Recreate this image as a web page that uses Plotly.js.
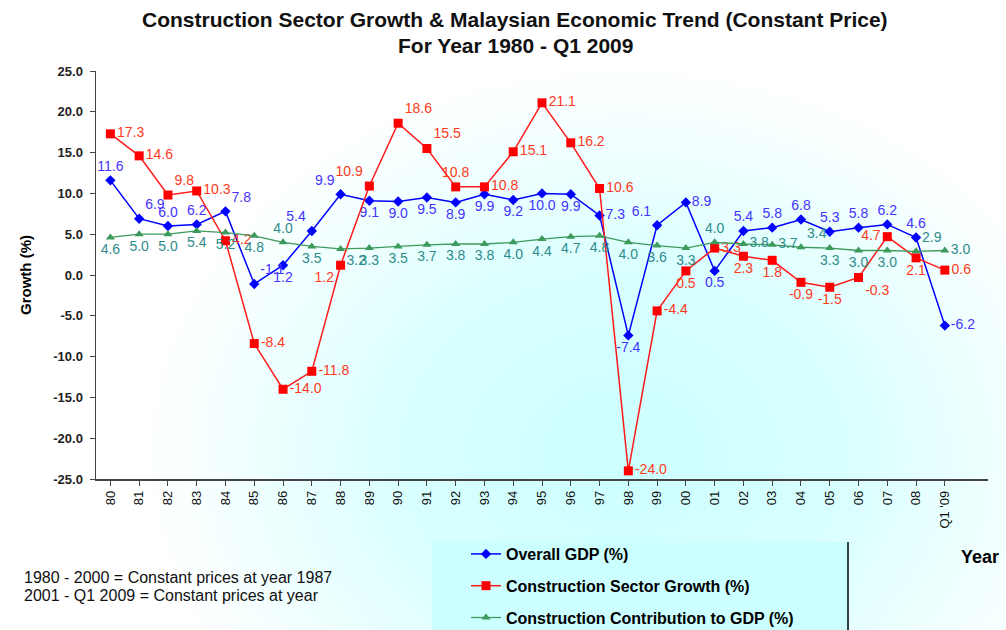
<!DOCTYPE html>
<html>
<head>
<meta charset="utf-8">
<script src="https://cdn.plot.ly/plotly-3.0.1.min.js"></script>
<style>
html,body{margin:0;padding:0;}
body{width:1006px;height:630px;overflow:hidden;
background:radial-gradient(ellipse 48% 62% at 62% 72%, #ccffff 0%, #d8ffff 45%, #f2ffff 80%, #ffffff 100%);}
#chart{width:1006px;height:630px;}
</style>
</head>
<body>
<div id="chart"></div>
<script>
const years = ["80","81","82","83","84","85","86","87","88","89","90","91","92","93","94","95","96","97","98","99","00","01","02","03","04","05","06","07","08","Q1 '09"];
const gdp = [11.6,6.9,6.0,6.2,7.8,-1.1,1.2,5.4,9.9,9.1,9.0,9.5,8.9,9.9,9.2,10.0,9.9,7.3,-7.4,6.1,8.9,0.5,5.4,5.8,6.8,5.3,5.8,6.2,4.6,-6.2];
const construction = [17.3,14.6,9.8,10.3,4.2,-8.4,-14.0,-11.8,1.2,10.9,18.6,15.5,10.8,10.8,15.1,21.1,16.2,10.6,-24.0,-4.4,0.5,3.3,2.3,1.8,-0.9,-1.5,-0.3,4.7,2.1,0.6];
const contribution = [4.6,5.0,5.0,5.4,5.2,4.8,4.0,3.5,3.2,3.3,3.5,3.7,3.8,3.8,4.0,4.4,4.7,4.8,4.0,3.6,3.3,4.0,3.8,3.7,3.4,3.3,3.0,3.0,2.9,3.0];
const seriesNames = ["Overall GDP (%)","Construction Sector Growth (%)","Construction Contribution to GDP (%)"];
const yTicks = [-25,-20,-15,-10,-5,0,5,10,15,20,25];

const gdpPos = ["top center","top right","top center","top center","top right","top right","bottom center","top left","top left",
 "bottom center","bottom center","bottom center","bottom center","bottom center","bottom center","bottom center","bottom center","middle right",
 "bottom center","top left","middle right","bottom center","top center","top center","top center","top center","top center","top center","top center","middle right"];
const conPos = ["middle right","middle right","top right","middle right","middle right","middle right","middle right","middle right","bottom left",
 "top left","top right","top right","top center","middle right","middle right","middle right","middle right","middle right","middle right","middle right",
 "bottom center","middle right","bottom center","bottom center","bottom center","bottom center","bottom right","middle left","bottom center","middle right"];
const ctbPos = ["bottom center","bottom center","bottom center","bottom center","bottom center","bottom center","top center","bottom center","bottom right",
 "bottom center","bottom center","bottom center","bottom center","bottom center","bottom center","bottom center","bottom center","bottom center","bottom center","bottom center",
 "bottom center","top center","middle right","middle right","top right","bottom center","bottom center","bottom center","top right","middle right"];

const x = years.map((_, i) => i);
const fmt = v => v.toFixed(1);
const labFont = {family:"Arial, Liberation Sans, sans-serif", size:14};

const traces = [
 {x:x, y:gdp, name:seriesNames[0], mode:"lines+markers+text", legendgroup:"a",
  line:{color:"#0000ff", width:1.5}, marker:{symbol:"diamond", size:8, color:"#0000ff"},
  text:gdp.map(fmt), textposition:gdpPos, textfont:Object.assign({color:"#4433ff"}, labFont), cliponaxis:false},
 {x:x, y:construction, name:seriesNames[1], mode:"lines+markers+text", legendgroup:"b",
  line:{color:"#ff1a1a", width:1.5}, marker:{symbol:"square", size:9, color:"#ff0000"},
  text:construction.map(fmt), textposition:conPos, textfont:Object.assign({color:"#ff3a1a"}, labFont), cliponaxis:false},
 {x:x, y:contribution, name:seriesNames[2], mode:"lines+markers+text", legendgroup:"c",
  line:{color:"#3c9a5c", width:1.3}, marker:{symbol:"triangle-up", size:8, color:"#3c9a5c"},
  text:contribution.map(fmt), textposition:ctbPos, textfont:Object.assign({color:"#2e8b8b"}, labFont), cliponaxis:false}
];

const W = 1006, H = 630;
const L = 96, R = 988, T = 71, B = 479;
const px = v => (v - L) / (R - L);
const py = v => (B - v) / (B - T);
const noteFont = {size:16, family:"Liberation Sans Narrow, Arial Narrow, Arial, sans-serif", color:"#111"};

const layout = {
 width:W, height:H,
 margin:{l:L, r:W-R, t:T, b:H-B, autoexpand:false},
 paper_bgcolor:"rgba(0,0,0,0)", plot_bgcolor:"rgba(0,0,0,0)",
 font:{family:"Arial, Liberation Sans, sans-serif", color:"#000"},
 xaxis:{tickmode:"array", tickvals:x, ticktext:years, range:[-0.5,30.5], tickangle:-90,
  showline:true, linecolor:"#444", linewidth:1.5, ticks:"outside", ticklen:5, tickcolor:"#444", tickson:"boundaries",
  showgrid:false, zeroline:false, tickfont:{size:13, color:"#111"}, fixedrange:true, automargin:false},
 yaxis:{range:[-25,25], tickmode:"array", tickvals:yTicks, ticktext:yTicks.map(fmt), showline:true, linecolor:"#444", linewidth:1.5,
  ticks:"outside", ticklen:5, tickcolor:"#444", showgrid:false, zeroline:false, ticklabelstandoff:4,
  tickfont:{size:13, color:"#222", weight:"bold"}, automargin:false,
  title:{text:"<b>Growth (%)</b>", font:{size:15}, standoff:18}, fixedrange:true},
 showlegend:true,
 legend:{x:px(466), xanchor:"left", y:py(537), yanchor:"top",
  bgcolor:"rgba(0,0,0,0)", borderwidth:0, tracegroupgap:8, font:{size:16, weight:"bold"}, traceorder:"grouped"},
 shapes:[
  {type:"rect", xref:"paper", yref:"paper", x0:px(432), x1:px(848), y0:py(542), y1:py(632), fillcolor:"#ccffff", line:{width:0}, layer:"below"},
  {type:"line", xref:"paper", yref:"paper", x0:px(848), x1:px(848), y0:py(542), y1:py(632), line:{color:"#000", width:1.5}}
 ],
 annotations:[
  {xref:"paper", yref:"paper", x:px(515), y:py(19), xanchor:"center", yanchor:"middle", showarrow:false,
   text:"<b>Construction Sector Growth & Malaysian Economic Trend (Constant Price)</b>", font:{size:21, color:"#111"}},
  {xref:"paper", yref:"paper", x:px(515), y:py(45), xanchor:"center", yanchor:"middle", showarrow:false,
   text:"<b>For Year 1980 - Q1 2009</b>", font:{size:21, color:"#111"}},
  {xref:"paper", yref:"paper", x:px(22), y:py(577), xanchor:"left", yanchor:"middle", showarrow:false,
   text:"1980 - 2000 = Constant prices at year 1987", font:noteFont},
  {xref:"paper", yref:"paper", x:px(22), y:py(595), xanchor:"left", yanchor:"middle", showarrow:false,
   text:"2001 - Q1 2009 = Constant prices at year", font:noteFont},
  {xref:"paper", yref:"paper", x:px(980), y:py(557), xanchor:"center", yanchor:"middle", showarrow:false,
   text:"<b>Year</b>", font:{size:18}}
 ]
};

Plotly.newPlot("chart", traces, layout, {displayModeBar:false, staticPlot:true});
</script>
</body>
</html>
